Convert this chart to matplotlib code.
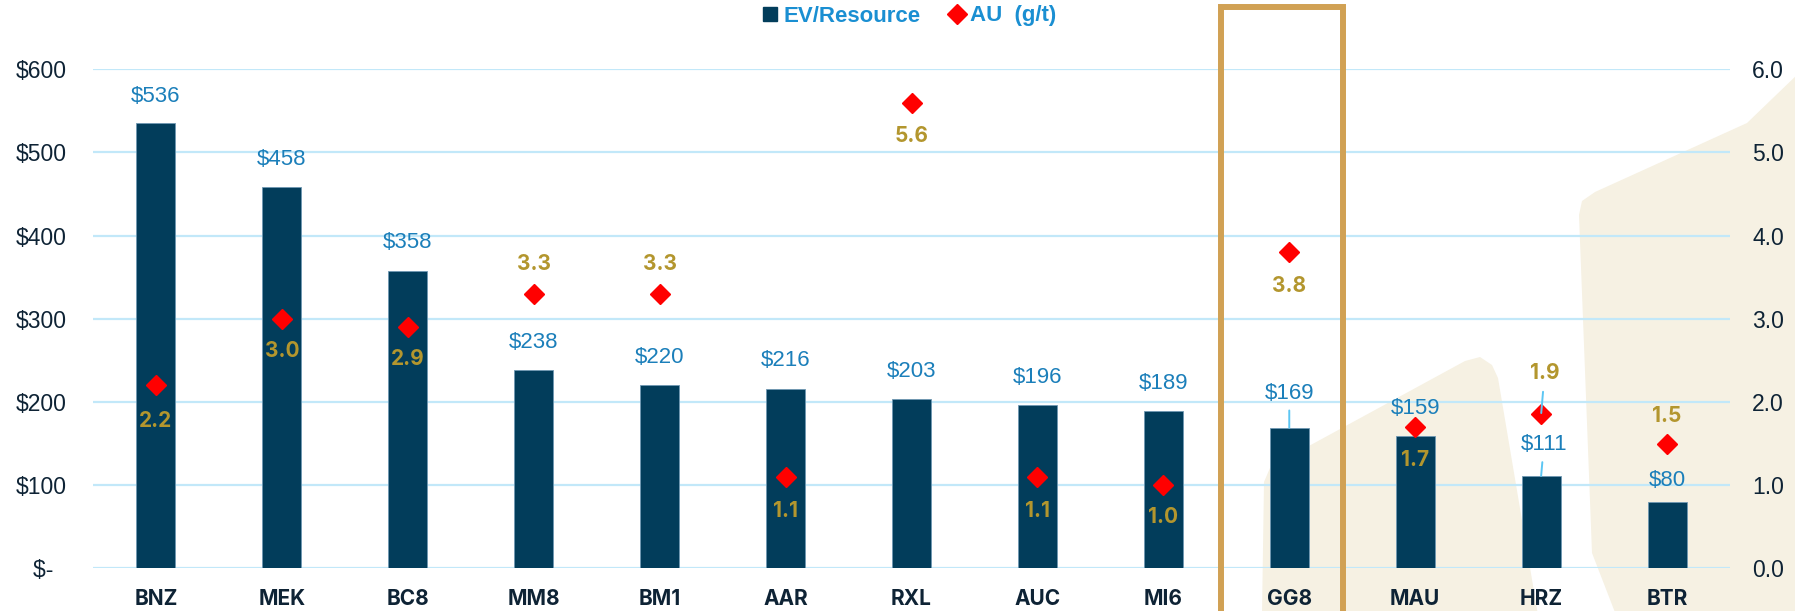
import numpy as np
import matplotlib
matplotlib.use('Agg')
import matplotlib.pyplot as plt
from matplotlib.patches import Polygon, Rectangle
from matplotlib.lines import Line2D
import matplotlib.transforms as mtransforms

# data
tickers = ['BNZ', 'MEK', 'BC8', 'MM8', 'BM1', 'AAR', 'RXL', 'AUC', 'MI6', 'GG8', 'MAU', 'HRZ', 'BTR']
ev_resource = [536, 458, 358, 238, 220, 216, 203, 196, 189, 169, 159, 111, 80]
au_grade = [2.2, 3.0, 2.9, 3.3, 3.3, 1.1, 5.6, 1.1, 1.0, 3.8, 1.7, 1.85, 1.5]
left_ticks = [0, 100, 200, 300, 400, 500, 600]
left_ticklabels = ['$-  ', '$100', '$200', '$300', '$400', '$500', '$600']
right_ticks = [0, 1, 2, 3, 4, 5, 6]

# label placement (styling only)
ev_offset = [19, 20, 20, 20, 20, 20, 20, 20, 20, 25, 19.5, 22.5, 15.5]   # points above bar
au_offset = [-25.5, -23, -23, 21.5, 21.5, -24.5, -24, -24.5, -23, -24.5, -24, 29.5, 19.5]
ev_dx = [0] * 9 + [0, 0, 2, 0]
ev_leader = [False] * 9 + [True, False, True, False]
au_leader = [False] * 11 + [True, False]

W, H = 1795, 611
BAR = '#023d5b'
GRID = '#c2e8f9'
BLUE = '#1b7fba'
GOLD = '#b3962e'
DARK = '#0e2335'
BEIGE = '#f6f1e3'
LEADER = '#5cc6f3'

fig = plt.figure(figsize=(W / 100, H / 100), dpi=100)
fig.patch.set_facecolor('white')


def px(points):
    return [(x / W, 1 - y / H) for x, y in points]


# decorative background shapes
shape1 = [(1262, 615), (1264, 482), (1270, 468), (1285, 459), (1465, 361), (1480, 357),
          (1492, 365), (1498, 378), (1538, 615)]
shape2 = [(1616, 615), (1592, 553), (1579, 215), (1582, 201), (1595, 192), (1747, 123),
          (1800, 72), (1800, 615)]
for s in (shape1, shape2):
    fig.patches.append(Polygon(px(s), closed=True, transform=fig.transFigure,
                               facecolor=BEIGE, edgecolor='none', zorder=-5))

ax = fig.add_axes([93 / W, (H - 568.3) / H, (1730 - 93) / W, 499 / H])
ax.patch.set_visible(False)
x = np.arange(len(tickers))

ax.set_axisbelow(True)
ax.yaxis.grid(True, color=GRID, lw=1.6)
ax.bar(x, ev_resource, width=0.31, color=BAR, edgecolor='#6f98b3', linewidth=0.6, zorder=3)
ax.set_xlim(-0.5, len(tickers) - 0.5)
ax.set_ylim(0, 600)
ax.set_yticks(left_ticks)
ax.set_yticklabels(left_ticklabels)
ax.set_xticks(x)
ax.set_xticklabels(tickers)
for sp in ax.spines.values():
    sp.set_visible(False)
ax.tick_params(axis='y', length=0, pad=19, labelsize=16.5, labelcolor=DARK)
ax.tick_params(axis='x', length=0, pad=15, labelsize=15, labelcolor=DARK)
for t in ax.get_yticklabels():
    t.set_fontfamily('Liberation Sans')
for t in ax.get_xticklabels():
    t.set_fontfamily('Inter')
    t.set_fontweight('bold')

ax2 = ax.twinx()
ax2.set_ylim(0, 6)
ax2.set_yticks(right_ticks)
ax2.set_yticklabels([f'{v:.1f}' for v in right_ticks])
for sp in ax2.spines.values():
    sp.set_visible(False)
ax2.tick_params(axis='y', length=0, pad=16, labelsize=16.5, labelcolor=DARK)
for t in ax2.get_yticklabels():
    t.set_fontfamily('Liberation Sans')
ax2.plot(x, au_grade, linestyle='none', marker='D', markersize=10.5, color='#ff0000',
         markeredgecolor='#ff0000', zorder=5)

for i, v in enumerate(ev_resource):
    arrow = dict(arrowstyle='-', color=LEADER, lw=1.4, shrinkA=3, shrinkB=0) if ev_leader[i] else None
    ax.annotate(f'${v}', (i, v), xytext=(ev_dx[i], ev_offset[i]), textcoords='offset points',
                ha='center', va='center', fontsize=16, color=BLUE,
                fontfamily='Liberation Sans', arrowprops=arrow, zorder=6)

for i, v in enumerate(au_grade):
    arrow = dict(arrowstyle='-', color=LEADER, lw=1.4, shrinkA=4, shrinkB=1) if au_leader[i] else None
    dx = 2.5 if au_leader[i] else 0
    ax2.annotate(f'{v:.1f}', (i, v), xytext=(dx, au_offset[i]), textcoords='offset points',
                 ha='center', va='center', fontsize=15, color=GOLD, fontweight='bold',
                 fontfamily='Inter', arrowprops=arrow, zorder=6)

# highlight box around GG8
trans = mtransforms.blended_transform_factory(ax.transData, fig.transFigure)
gi = tickers.index('GG8')
box = Rectangle((gi - 0.545, -0.05), 0.97, 1.05 - 7 / H, transform=trans, fill=False,
                edgecolor='#d1a154', lw=4.3, clip_on=False, zorder=10)
fig.add_artist(box)

# legend
handles = [Line2D([], [], linestyle='none', marker='s', markersize=10, color=BAR),
           Line2D([], [], linestyle='none', marker='D', markersize=10.5, color='#ff0000')]
leg = fig.legend(handles, ['EV/Resource', 'AU  (g/t)'], loc='center', bbox_to_anchor=(0.5065, 1 - 16 / H),
                 ncol=2, frameon=False, handlelength=0.7, handletextpad=0.25, columnspacing=1.3,
                 prop={'family': 'Liberation Sans', 'weight': 'bold', 'size': 16})
for t in leg.get_texts():
    t.set_color('#1a8fd2')

fig.savefig('out.png', dpi=100)
